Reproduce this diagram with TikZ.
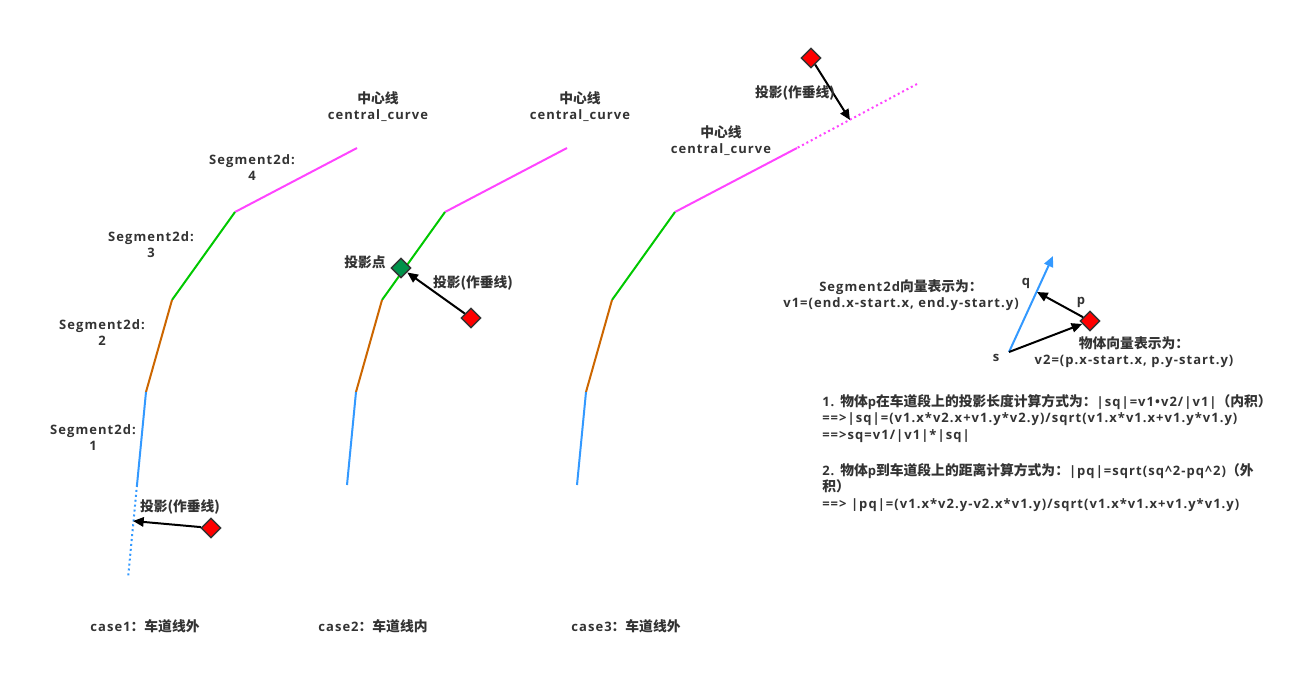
\documentclass[tikz,border=0pt]{standalone}
\usepackage{fontspec}
\setmainfont{Open Sans}[LetterSpace=8]
\newfontfamily\cjk{Noto Sans CJK SC}[Scale=1.06]
\newcommand\zh[1]{{\cjk\bfseries #1}}
\usetikzlibrary{shapes.geometric,arrows.meta}
\definecolor{txt}{HTML}{333333}
\definecolor{segpink}{HTML}{FF44FF}
\definecolor{seggreen}{HTML}{00C800}
\definecolor{segorange}{HTML}{CC6600}
\definecolor{segblue}{HTML}{3399FF}
\definecolor{dgreen}{HTML}{00924A}
\definecolor{dred}{HTML}{FF0000}
\begin{document}
\begin{tikzpicture}[x=0.75pt,y=-0.75pt,
  lbl/.style={text=txt,inner sep=0pt,align=center,font=\fontsize{9.75pt}{12pt}\selectfont\bfseries},
  seg/.style={line width=1.5pt},
  dotseg/.style={line width=1.5pt,dash pattern=on 1.5pt off 2.2pt},
  arr/.style={line width=1.5pt,-{Triangle[length=8pt,width=7pt]}},
  objred/.style={shape=diamond,draw=txt,line width=1.1pt,fill=dred,minimum width=15pt,minimum height=15pt,inner sep=0pt},
  objgreen/.style={objred,fill=dgreen}]
\useasboundingbox (0,0) rectangle (1289,674);
% ---------- case 1 ----------
\coordinate (a1) at (357,148);
\coordinate (a2) at (235,212);
\coordinate (a3) at (172,300);
\coordinate (a4) at (146,392);
\coordinate (a5) at (137,485);
\coordinate (a6) at (128,578);
\coordinate (a7) at (133,521);
\draw[seg,segpink] (a1) -- (a2);
\draw[seg,seggreen] (a2) -- (a3);
\draw[seg,segorange] (a3) -- (a4);
\draw[seg,segblue] (a4) -- (a5);
\draw[dotseg,segblue] (a5) -- (a6);
\node[objred] (r1) at (211,528) {};
\draw[arr] (r1) -- (a7);
\node[lbl] (pl1) at (180,507) {\zh{投影(作垂线)}};
\node[lbl] (s4) at (252,168) {Segment2d:\\4};
\node[lbl] (s3) at (151,245) {Segment2d:\\3};
\node[lbl] (s2) at (102,333) {Segment2d:\\2};
\node[lbl] (s1) at (93,438) {Segment2d:\\1};
\node[lbl] (c1) at (378,107) {\zh{中心线}\\central\_curve};
\node[lbl] (case1) at (145,626) {case1\zh{：车道线外}};
% ---------- case 2 ----------
\coordinate (b1) at (567,148);
\coordinate (b2) at (445,212);
\coordinate (b3) at (382,300);
\coordinate (b4) at (356,392);
\coordinate (b5) at (347,485);
\draw[seg,segpink] (b1) -- (b2);
\draw[seg,seggreen] (b2) -- (b3);
\draw[seg,segorange] (b3) -- (b4);
\draw[seg,segblue] (b4) -- (b5);
\node[objgreen] (g2) at (401,268) {};
\node[objred] (r2) at (471,318) {};
\draw[arr] (r2) -- (g2);
\node[lbl] (pt2) at (365,262) {\zh{投影点}};
\node[lbl] (pl2) at (473,283) {\zh{投影(作垂线)}};
\node[lbl] (c2) at (580,107) {\zh{中心线}\\central\_curve};
\node[lbl] (case2) at (373,626) {case2\zh{：车道线内}};
% ---------- case 3 ----------
\coordinate (d0) at (917,84);
\coordinate (d1) at (797,148);
\coordinate (d2) at (675,212);
\coordinate (d3) at (612,300);
\coordinate (d4) at (586,392);
\coordinate (d5) at (577,485);
\coordinate (d6) at (850,120);
\draw[dotseg,segpink] (d0) -- (d1);
\draw[seg,segpink] (d1) -- (d2);
\draw[seg,seggreen] (d2) -- (d3);
\draw[seg,segorange] (d3) -- (d4);
\draw[seg,segblue] (d4) -- (d5);
\node[objred] (r3) at (811,58) {};
\draw[arr] (r3) -- (d6);
\node[lbl] (pl3) at (795,93) {\zh{投影(作垂线)}};
\node[lbl] (c3) at (721,141) {\zh{中心线}\\central\_curve};
\node[lbl] (case3) at (626,626) {case3\zh{：车道线外}};
% ---------- vectors ----------
\coordinate (vs) at (1009,352);
\coordinate (vq) at (1053,256);
\coordinate (vqq) at (1037,292);
\node[objred] (rp) at (1090,321) {};
\draw[arr,segblue] (vs) -- (vq);
\draw[arr] (vs) -- (rp);
\draw[arr] (rp) -- (vqq);
\node[lbl] (lq) at (1026,283) {q};
\node[lbl] (lp) at (1081,302) {p};
\node[lbl] (ls) at (996,358) {s};
\node[lbl] (v1t) at (901,295) {Segment2d\zh{向量表示为：}\\v1=(end.x-start.x, end.y-start.y)};
\node[lbl] (v2t) at (1134,352) {\zh{物体向量表示为：}\\v2=(p.x-start.x, p.y-start.y)};
\node[lbl,anchor=north west,align=left,font=\fontsize{9.75pt}{12.4pt}\selectfont\bfseries] (f1) at (822,394)
  {1. \zh{物体}p\zh{在车道段上的投影长度计算方式为：}|sq|=v1•v2/|v1|\zh{（内积）}\\
   ==>|sq|=(v1.x*v2.x+v1.y*v2.y)/sqrt(v1.x*v1.x+v1.y*v1.y)\\
   ==>sq=v1/|v1|*|sq|};
\node[lbl,anchor=north west,align=left,font=\fontsize{9.75pt}{12.4pt}\selectfont\bfseries] (f2) at (822,463)
  {2. \zh{物体}p\zh{到车道段上的距离计算方式为：}|pq|=sqrt(sq\textasciicircum 2-pq\textasciicircum 2)\zh{（外}\\
   \zh{积）}\\
   ==> |pq|=(v1.x*v2.y-v2.x*v1.y)/sqrt(v1.x*v1.x+v1.y*v1.y)};
\end{tikzpicture}
\end{document}
